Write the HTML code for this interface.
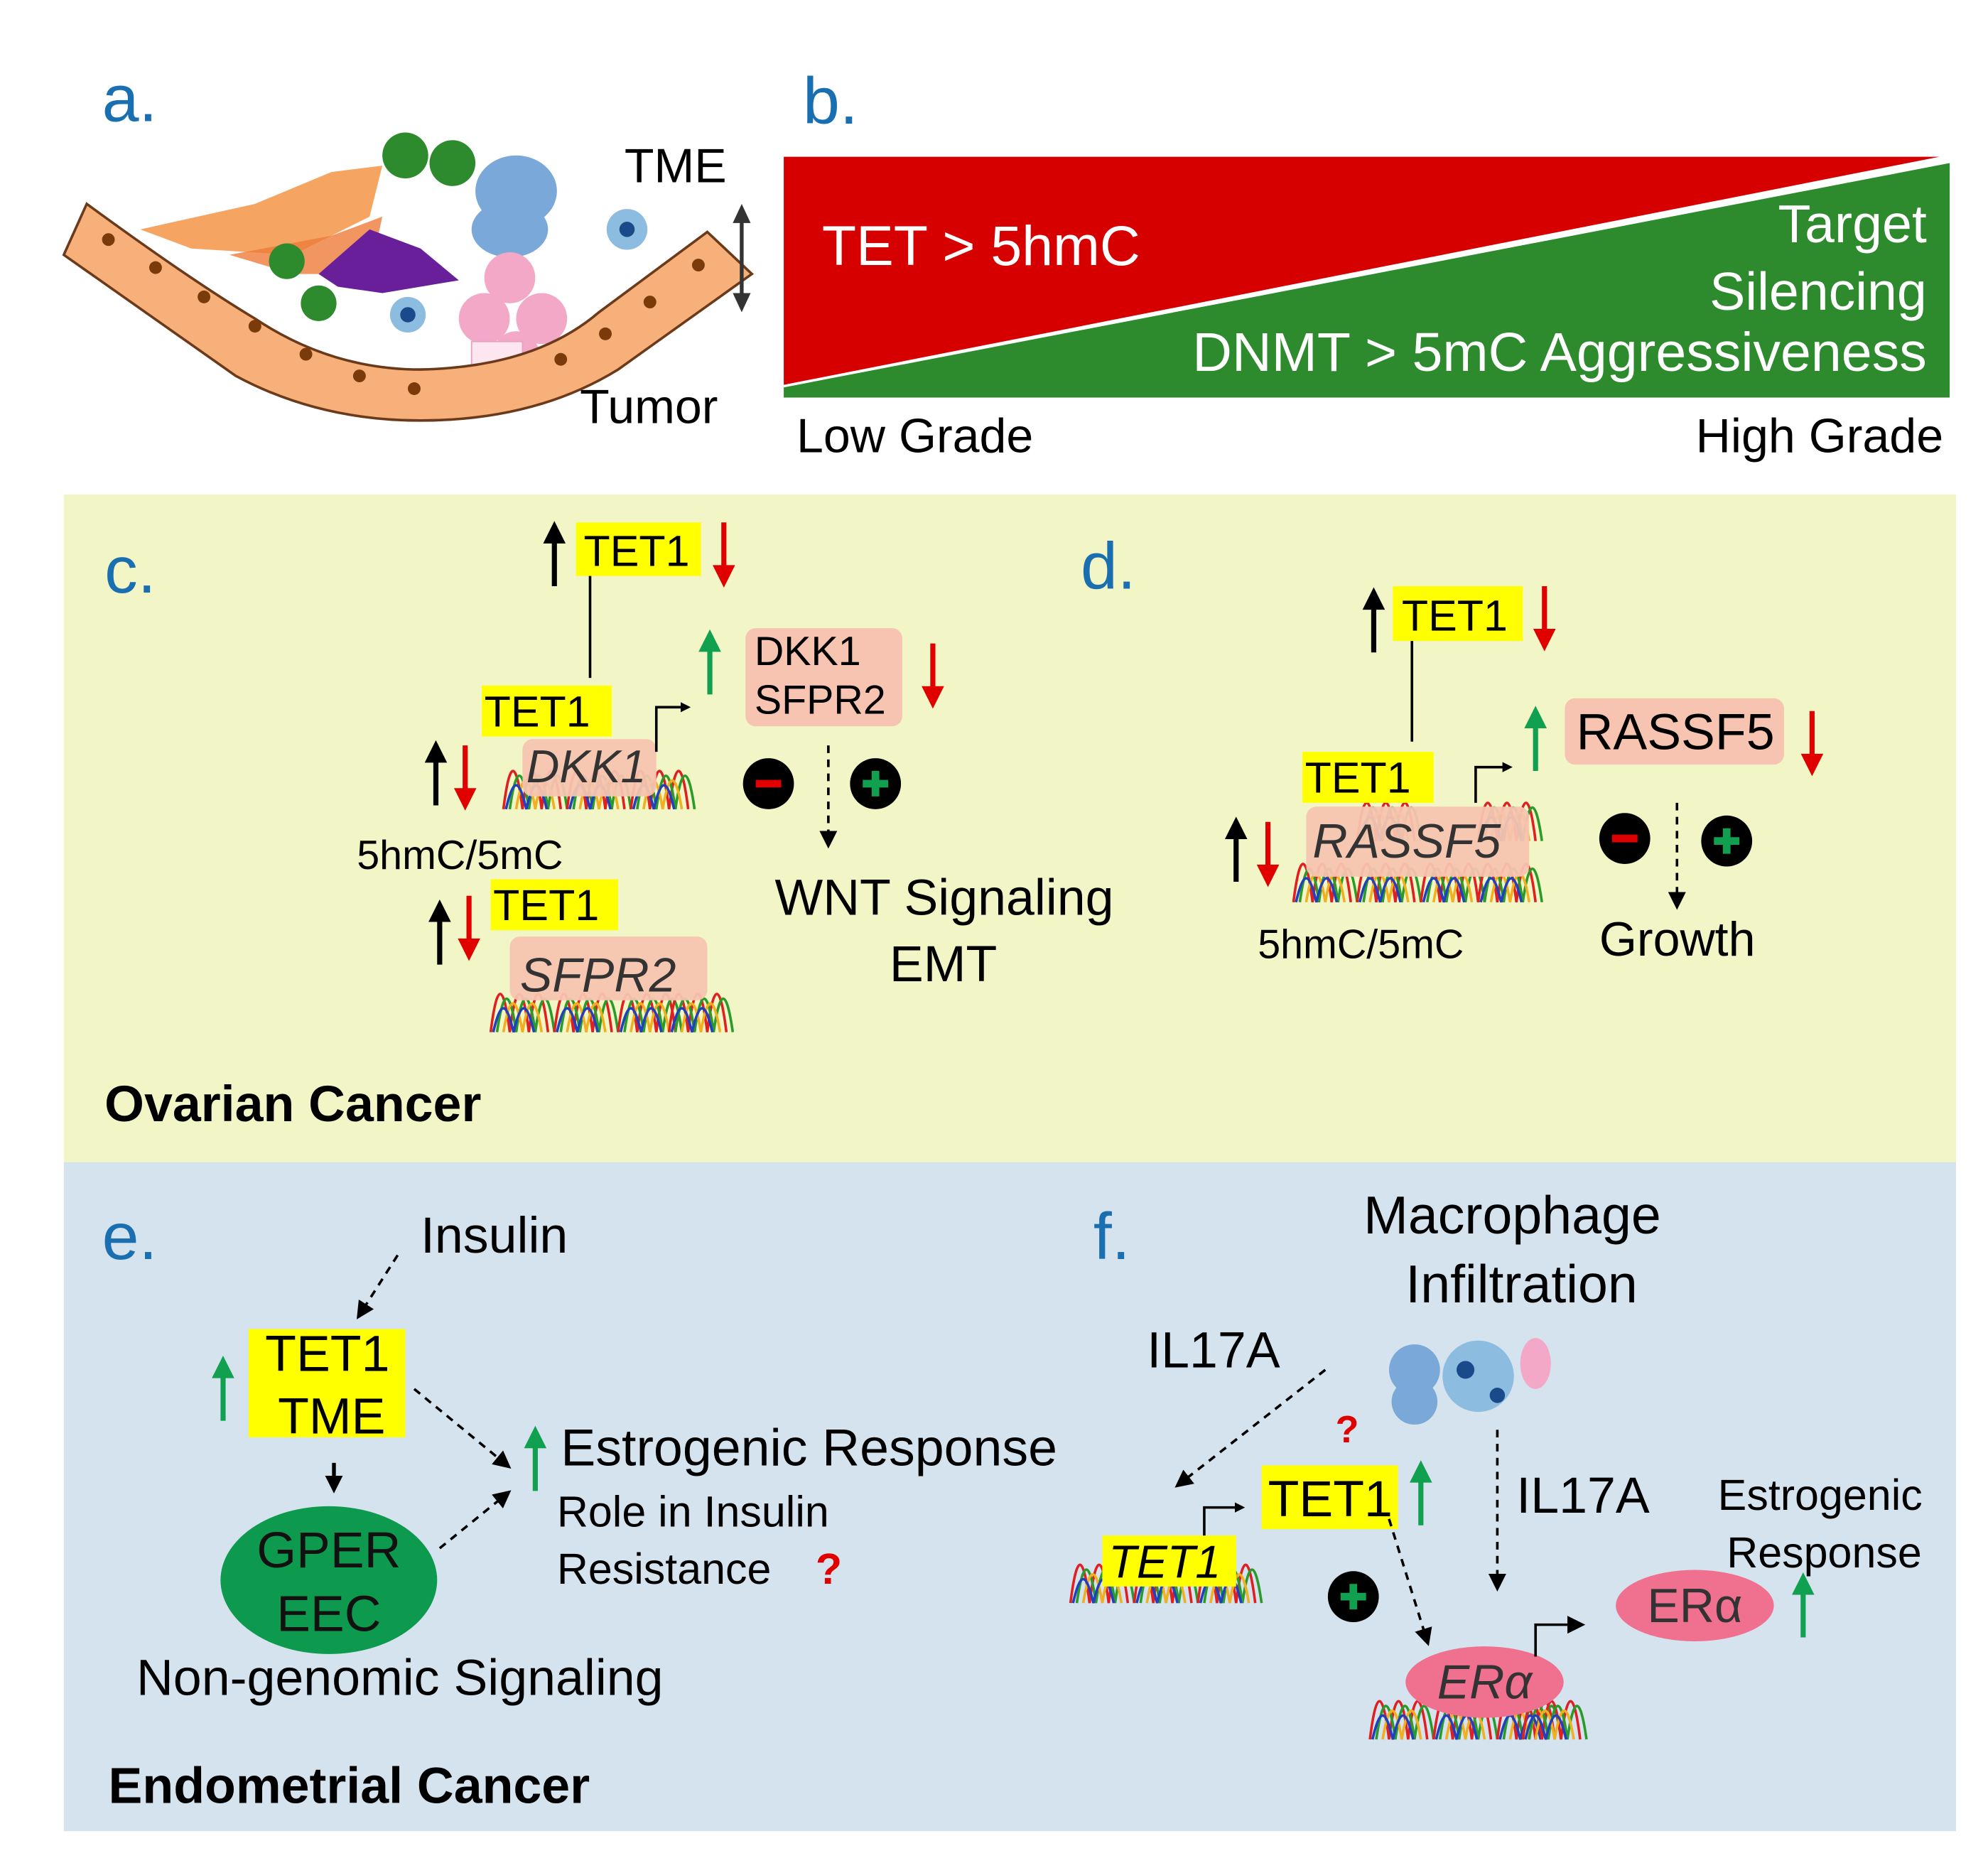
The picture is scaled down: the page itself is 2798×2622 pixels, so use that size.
<!DOCTYPE html>
<html><head><meta charset="utf-8"><style>
html,body{margin:0;padding:0;background:#fff}
svg{display:block}
text{font-family:"Liberation Sans",Arial,sans-serif}
</style></head><body>
<svg width="2798" height="2622" viewBox="0 0 1560 1462" xmlns="http://www.w3.org/2000/svg">
<defs>
<marker id="ah" markerWidth="8" markerHeight="8" refX="6" refY="4" orient="auto" markerUnits="userSpaceOnUse"><path d="M0,0 L8,4 L0,8 z" fill="#000"/></marker>
<marker id="ahb" markerWidth="14" markerHeight="14" refX="10" refY="7" orient="auto" markerUnits="userSpaceOnUse"><path d="M0,0 L14,7 L0,14 z" fill="#000"/></marker>
<g id="up"><line x1="0" y1="0" x2="0" y2="-42" stroke-width="4"/><path d="M-8,-34 L0,-50 L8,-34 z"/></g>
<g id="dn"><line x1="0" y1="0" x2="0" y2="42" stroke-width="4"/><path d="M-8,34 L0,50 L8,34 z"/></g>
<g id="wave" fill="none" stroke-width="2">
<path d="M0,40 C5,0 10,0 15,40 C20,0 25,0 30,40 C35,0 40,0 45,40" stroke="#e02020"/>
<path d="M5,40 C10,5 15,5 20,40 C25,5 30,5 35,40 C40,5 45,5 50,40" stroke="#2a9a2a"/>
<path d="M10,40 C15,10 20,10 25,40 C30,10 35,10 40,40" stroke="#f0b020"/>
<path d="M2,40 C8,15 12,15 18,40 C24,15 28,15 34,40" stroke="#2040c0"/>
</g>
</defs>
<rect width="1560" height="1462" fill="#fff"/>
<rect x="50" y="388" width="1485" height="524" fill="#f2f5c6"/>
<rect x="50" y="912" width="1485" height="525" fill="#d5e3ee"/>

<!-- a -->
<text x="80" y="95" font-size="52" fill="#1a6fb0">a.</text>
<path d="M110,180 L200,160 L260,135 L300,130 L290,170 L230,200 L150,195 z" fill="#f59a50" opacity="0.9"/>
<path d="M180,200 L260,185 L300,170 L290,215 L230,215 z" fill="#ee7a3a" opacity="0.8"/>
<circle cx="318" cy="122" r="18" fill="#2d8a2d"/><circle cx="355" cy="128" r="18" fill="#2d8a2d"/>
<circle cx="225" cy="205" r="14" fill="#2d8a2d"/><circle cx="250" cy="238" r="14" fill="#2d8a2d"/>
<path d="M250,215 L290,180 L330,195 L360,220 L300,230 L265,225 z" fill="#6a1f9a"/>
<ellipse cx="405" cy="150" rx="32" ry="28" fill="#7aa8d8"/><ellipse cx="400" cy="180" rx="30" ry="22" fill="#7aa8d8"/>
<circle cx="492" cy="180" r="16" fill="#8cbce0"/><circle cx="492" cy="180" r="6" fill="#1a4a8a"/>
<circle cx="320" cy="247" r="14" fill="#8cbce0"/><circle cx="320" cy="247" r="6" fill="#1a4a8a"/>
<circle cx="400" cy="218" r="20" fill="#f3a8c8"/><circle cx="380" cy="250" r="20" fill="#f3a8c8"/><circle cx="425" cy="250" r="20" fill="#f3a8c8"/><circle cx="405" cy="278" r="18" fill="#f3a8c8"/>
<rect x="370" y="268" width="40" height="40" fill="#fde6f0" stroke="#e8a0c0"/>
<g stroke="#6a3a1a" stroke-width="2">
<path d="M68,160 Q150,220 200,250 Q260,290 330,290 Q420,288 470,245 L555,182 L590,215 L485,290 Q420,330 330,330 Q250,330 185,295 L50,200 z" fill="#f7b07a"/>
</g>
<g fill="#7a3a0a">
<circle cx="85" cy="188" r="5"/><circle cx="122" cy="210" r="5"/><circle cx="160" cy="233" r="5"/><circle cx="200" cy="256" r="5"/><circle cx="240" cy="278" r="5"/><circle cx="282" cy="295" r="5"/><circle cx="325" cy="305" r="5"/><circle cx="440" cy="282" r="5"/><circle cx="475" cy="262" r="5"/><circle cx="510" cy="237" r="5"/><circle cx="548" cy="208" r="5"/>
</g>
<text x="490" y="143" font-size="38">TME</text>
<text x="455" y="332" font-size="38">Tumor</text>
<line x1="582" y1="170" x2="582" y2="235" stroke="#333" stroke-width="3"/>
<path d="M575,175 L582,160 L589,175 z M575,230 L582,245 L589,230 z" fill="#333"/>

<!-- b -->
<text x="630" y="97" font-size="52" fill="#1a6fb0">b.</text>
<path d="M615,123 L1522,123 L615,302 z" fill="#d60000"/>
<path d="M615,304 L1530,128 L1530,312 L615,312 z" fill="#2d8a2d"/>
<text x="645" y="208" font-size="44" fill="#fff">TET &gt; 5hmC</text>
<g font-size="42" fill="#fff" text-anchor="end">
<text x="1512" y="190">Target</text>
<text x="1512" y="243">Silencing</text>
<text x="1512" y="291" font-size="43">DNMT &gt; 5mC  Aggressiveness</text>
</g>
<text x="625" y="355" font-size="38">Low Grade</text>
<text x="1525" y="355" font-size="38" text-anchor="end">High Grade</text>

<!-- c -->
<text x="82" y="465" font-size="52" fill="#1a6fb0">c.</text>
<rect x="452" y="410" width="98" height="42" fill="#ffff00"/><text x="458" y="444" font-size="34">TET1</text>
<use href="#up" x="435" y="460" fill="#000" stroke="#000"/>
<use href="#dn" x="568" y="410" fill="#e00000" stroke="#e00000"/>
<line x1="463" y1="452" x2="463" y2="532" stroke="#000" stroke-width="2"/>
<use href="#wave" transform="translate(395,595)"/><use href="#wave" transform="translate(445,595)"/><use href="#wave" transform="translate(495,595)"/>
<rect x="410" y="580" width="105" height="45" rx="8" fill="#f6c4b0" opacity="0.95"/>
<text x="413" y="614" font-size="36" font-style="italic" fill="#333">DKK1</text>
<rect x="378" y="538" width="102" height="40" fill="#ffff00"/><text x="380" y="570" font-size="34">TET1</text>
<path d="M515,590 L515,555 L540,555" fill="none" stroke="#000" stroke-width="2" marker-end="url(#ah)"/>
<use href="#up" x="342" y="632" fill="#000" stroke="#000"/>
<use href="#dn" x="365" y="585" fill="#e00000" stroke="#e00000"/>
<text x="280" y="682" font-size="32">5hmC/5mC</text>
<use href="#wave" transform="translate(385,770)"/><use href="#wave" transform="translate(435,770)"/><use href="#wave" transform="translate(485,770)"/><use href="#wave" transform="translate(525,770)"/>
<rect x="400" y="735" width="155" height="50" rx="8" fill="#f6c4b0" opacity="0.95"/>
<text x="408" y="778" font-size="38" font-style="italic" fill="#333">SFPR2</text>
<rect x="385" y="690" width="100" height="40" fill="#ffff00"/><text x="387" y="722" font-size="34">TET1</text>
<use href="#up" x="345" y="757" fill="#000" stroke="#000"/>
<use href="#dn" x="368" y="703" fill="#e00000" stroke="#e00000"/>
<use href="#up" x="557" y="545" fill="#10a050" stroke="#10a050"/>
<rect x="585" y="493" width="123" height="77" rx="8" fill="#f6c4b0"/>
<text x="592" y="522" font-size="32">DKK1</text><text x="592" y="560" font-size="32">SFPR2</text>
<use href="#dn" x="732" y="505" fill="#e00000" stroke="#e00000"/>
<circle cx="603" cy="615" r="20" fill="#000"/><rect x="593" y="612" width="20" height="6" fill="#e00000"/>
<circle cx="687" cy="615" r="20" fill="#000"/><path d="M677,615 H697 M687,605 V625" stroke="#10a050" stroke-width="6"/>
<line x1="650" y1="585" x2="650" y2="662" stroke="#000" stroke-width="2" stroke-dasharray="6,5" marker-end="url(#ahb)"/>
<text x="608" y="718" font-size="40">WNT  Signaling</text>
<text x="698" y="770" font-size="40">EMT</text>
<text x="82" y="880" font-size="40" font-weight="bold">Ovarian Cancer</text>

<!-- d -->
<text x="848" y="462" font-size="52" fill="#1a6fb0">d.</text>
<rect x="1093" y="460" width="102" height="43" fill="#ffff00"/><text x="1100" y="495" font-size="34">TET1</text>
<use href="#up" x="1078" y="512" fill="#000" stroke="#000"/>
<use href="#dn" x="1212" y="460" fill="#e00000" stroke="#e00000"/>
<line x1="1108" y1="503" x2="1108" y2="582" stroke="#000" stroke-width="2"/>
<use href="#wave" transform="translate(1015,668)"/><use href="#wave" transform="translate(1065,668)"/><use href="#wave" transform="translate(1115,668)"/><use href="#wave" transform="translate(1160,668)"/>
<use href="#wave" transform="translate(1065,620)"/><use href="#wave" transform="translate(1160,620)"/>
<rect x="1025" y="633" width="175" height="55" rx="8" fill="#f6c4b0" opacity="0.95"/>
<text x="1030" y="673" font-size="38" font-style="italic" fill="#333">RASSF5</text>
<rect x="1022" y="590" width="103" height="40" fill="#ffff00"/><text x="1024" y="622" font-size="34">TET1</text>
<path d="M1158,630 L1158,602 L1185,602" fill="none" stroke="#000" stroke-width="2" marker-end="url(#ah)"/>
<use href="#up" x="970" y="692" fill="#000" stroke="#000"/>
<use href="#dn" x="995" y="645" fill="#e00000" stroke="#e00000"/>
<text x="987" y="752" font-size="32">5hmC/5mC</text>
<use href="#up" x="1205" y="605" fill="#10a050" stroke="#10a050"/>
<rect x="1228" y="548" width="172" height="52" rx="8" fill="#f6c4b0"/>
<text x="1237" y="588" font-size="40">RASSF5</text>
<use href="#dn" x="1422" y="558" fill="#e00000" stroke="#e00000"/>
<circle cx="1275" cy="658" r="20" fill="#000"/><rect x="1265" y="655" width="20" height="6" fill="#e00000"/>
<circle cx="1355" cy="660" r="20" fill="#000"/><path d="M1345,660 H1365 M1355,650 V670" stroke="#10a050" stroke-width="6"/>
<line x1="1316" y1="630" x2="1316" y2="710" stroke="#000" stroke-width="2" stroke-dasharray="6,5" marker-end="url(#ahb)"/>
<text x="1255" y="750" font-size="38">Growth</text>

<!-- e -->
<text x="80" y="988" font-size="52" fill="#1a6fb0">e.</text>
<text x="330" y="983" font-size="40">Insulin</text>
<line x1="312" y1="985" x2="282" y2="1032" stroke="#000" stroke-width="2" stroke-dasharray="6,5" marker-end="url(#ahb)"/>
<use href="#up" x="175" y="1115" fill="#10a050" stroke="#10a050"/>
<rect x="195" y="1043" width="123" height="85" fill="#ffff00"/>
<text x="208" y="1076" font-size="40">TET1</text><text x="218" y="1125" font-size="40">TME</text>
<line x1="262" y1="1148" x2="262" y2="1168" stroke="#000" stroke-width="3" marker-end="url(#ahb)"/>
<ellipse cx="258" cy="1240" rx="85" ry="58" fill="#0e9a4e"/>
<text x="258" y="1230" font-size="40" text-anchor="middle" fill="#111">GPER</text>
<text x="258" y="1280" font-size="40" text-anchor="middle" fill="#111">EEC</text>
<text x="107" y="1330" font-size="40">Non-genomic Signaling</text>
<line x1="325" y1="1090" x2="398" y2="1150" stroke="#000" stroke-width="2" stroke-dasharray="6,5" marker-end="url(#ahb)"/>
<line x1="345" y1="1215" x2="398" y2="1172" stroke="#000" stroke-width="2" stroke-dasharray="6,5" marker-end="url(#ahb)"/>
<use href="#up" x="420" y="1170" fill="#10a050" stroke="#10a050"/>
<text x="440" y="1150" font-size="41">Estrogenic Response</text>
<text x="437" y="1198" font-size="34">Role  in Insulin</text>
<text x="437" y="1243" font-size="34">Resistance</text>
<text x="640" y="1243" font-size="34" fill="#e00000" font-weight="bold">?</text>
<text x="85" y="1415" font-size="40" font-weight="bold">Endometrial Cancer</text>

<!-- f -->
<text x="858" y="988" font-size="52" fill="#1a6fb0">f.</text>
<text x="1070" y="968" font-size="42">Macrophage</text>
<text x="1103" y="1022" font-size="42">Infiltration</text>
<text x="900" y="1073" font-size="40">IL17A</text>
<circle cx="1110" cy="1075" r="20" fill="#7aa8d8"/><circle cx="1110" cy="1100" r="18" fill="#7aa8d8"/>
<circle cx="1160" cy="1080" r="28" fill="#8cbce0"/><circle cx="1150" cy="1075" r="7" fill="#1a4a8a"/><circle cx="1175" cy="1095" r="6" fill="#1a4a8a"/>
<ellipse cx="1205" cy="1070" rx="12" ry="20" fill="#f3a8c8"/>
<line x1="1040" y1="1075" x2="925" y2="1165" stroke="#000" stroke-width="2" stroke-dasharray="6,5" marker-end="url(#ahb)"/>
<text x="1048" y="1132" font-size="30" fill="#e00000" font-weight="bold">?</text>
<line x1="1175" y1="1122" x2="1175" y2="1245" stroke="#000" stroke-width="2" stroke-dasharray="6,5" marker-end="url(#ahb)"/>
<text x="1190" y="1187" font-size="40">IL17A</text>
<text x="1348" y="1185" font-size="34">Estrogenic</text>
<text x="1355" y="1230" font-size="34">Response</text>
<use href="#wave" transform="translate(840,1218)"/><use href="#wave" transform="translate(890,1218)"/><use href="#wave" transform="translate(940,1218)"/>
<rect x="865" y="1205" width="105" height="40" fill="#ffff00"/>
<text x="870" y="1238" font-size="36" font-style="italic">TET1</text>
<path d="M945,1205 L945,1183 L975,1183" fill="none" stroke="#000" stroke-width="2" marker-end="url(#ah)"/>
<rect x="990" y="1150" width="107" height="50" fill="#ffff00"/><text x="995" y="1190" font-size="40">TET1</text>
<use href="#up" x="1115" y="1197" fill="#10a050" stroke="#10a050"/>
<circle cx="1062" cy="1253" r="20" fill="#000"/><path d="M1052,1253 H1072 M1062,1243 V1263" stroke="#10a050" stroke-width="6"/>
<line x1="1090" y1="1192" x2="1120" y2="1288" stroke="#000" stroke-width="2" stroke-dasharray="6,5" marker-end="url(#ahb)"/>
<use href="#wave" transform="translate(1075,1325)"/><use href="#wave" transform="translate(1125,1325)"/><use href="#wave" transform="translate(1175,1325)"/><use href="#wave" transform="translate(1195,1325)"/>
<ellipse cx="1165" cy="1320" rx="62" ry="28" fill="#f07090"/>
<text x="1165" y="1333" font-size="38" font-style="italic" text-anchor="middle" fill="#333">ERα</text>
<path d="M1205,1300 L1205,1275 L1240,1275" fill="none" stroke="#000" stroke-width="2" marker-end="url(#ahb)"/>
<ellipse cx="1330" cy="1260" rx="62" ry="28" fill="#f07090"/>
<text x="1330" y="1273" font-size="38" text-anchor="middle" fill="#333">ERα</text>
<use href="#up" x="1415" y="1285" fill="#10a050" stroke="#10a050"/>
</svg>
</body></html>
